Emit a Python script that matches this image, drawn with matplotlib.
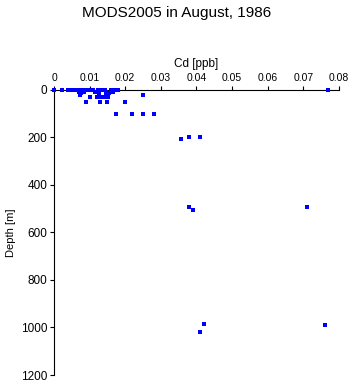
import numpy as np
import matplotlib
matplotlib.use('Agg')
from matplotlib import pyplot as plt

plt.rcParams['font.family'] = ['Liberation Sans', 'DejaVu Sans']

# Cd concentration [ppb] and sample depth [m]
cd = [0.0, 0.0022, 0.004, 0.005, 0.0061, 0.0071, 0.0081, 0.009, 0.010,
      0.011, 0.0124, 0.0133, 0.0144, 0.0161, 0.017, 0.018, 0.077,
      0.007, 0.0075, 0.0085, 0.0115, 0.0125, 0.0145, 0.0155, 0.0165,
      0.0072, 0.0145, 0.025,
      0.010, 0.0122, 0.0128, 0.0134, 0.0143, 0.0152,
      0.009, 0.013, 0.015, 0.020,
      0.0174, 0.022, 0.025, 0.028,
      0.0357, 0.038, 0.041,
      0.038, 0.039, 0.071,
      0.042, 0.076, 0.041]
depth = [0, 0, 0, 0, 0, 0, 0, 0, 0,
         0, 0, 0, 0, 0, 0, 0, 0,
         10, 12, 10, 10, 12, 10, 12, 10,
         20, 20, 21,
         31, 31, 31, 31, 31, 31,
         50, 50, 50, 50,
         100, 100, 100, 100,
         205, 200, 198,
         493, 507, 493,
         987, 990, 1020]

xticks = [0, 0.01, 0.02, 0.03, 0.04, 0.05, 0.06, 0.07, 0.08]
xticklabels = ['0', '0.01', '0.02', '0.03', '0.04', '0.05', '0.06', '0.07', '0.08']
yticks = [0, 200, 400, 600, 800, 1000, 1200]

fig = plt.figure(figsize=(3.53, 3.84), dpi=100)
ax = fig.add_axes([0.153, 0.0234, 0.807, 0.7426])
ax.plot(cd, depth, linestyle='none', marker='s', markersize=2.3,
        color='#0000ff', markeredgewidth=0, antialiased=False,
        clip_on=False, zorder=3)

ax.set_xlim(0, 0.08)
ax.set_ylim(1200, 0)
ax.set_xticks(xticks)
ax.set_xticklabels(xticklabels)
ax.set_yticks(yticks)
ax.xaxis.tick_top()
ax.xaxis.set_label_position('top')
ax.tick_params(axis='x', labelsize=7.5, length=3, width=0.8, pad=2)
ax.tick_params(axis='y', labelsize=8.5, length=3, width=0.8, pad=2)
for side in ['right', 'bottom']:
    ax.spines[side].set_visible(False)
ax.spines['top'].set_linewidth(0.8)
ax.spines['left'].set_linewidth(0.8)
ax.set_xlabel('Cd [ppb]', fontsize=8.5, labelpad=4)
ax.set_ylabel('Depth [m]', fontsize=8, labelpad=3)
fig.suptitle('MODS2005 in August, 1986', fontsize=11, y=0.985)

fig.savefig('out.png', dpi=100)
